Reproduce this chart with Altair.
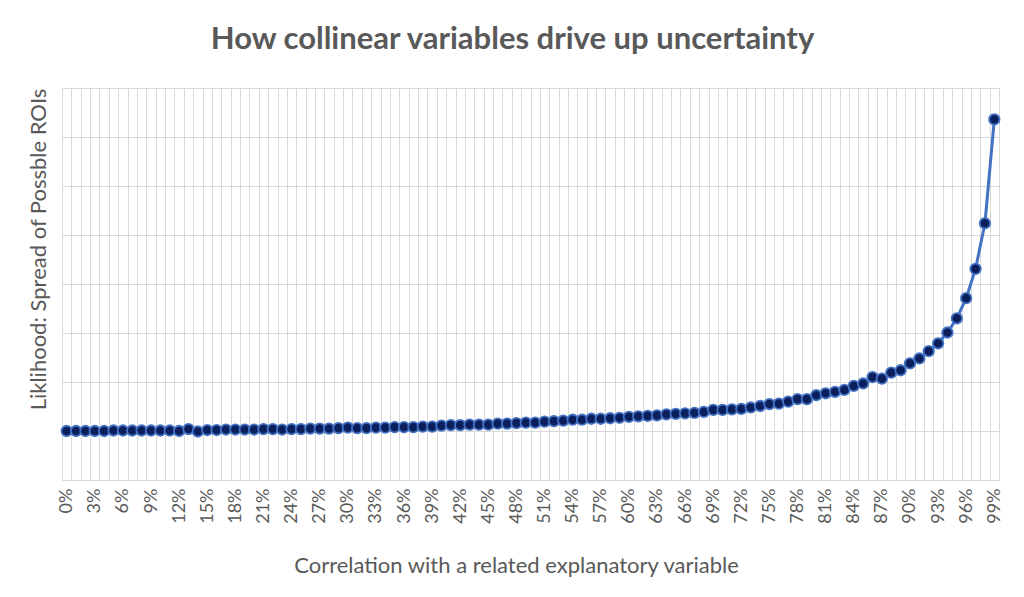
import altair as alt
import pandas as pd

# Correlation (percent) categories 0..99
corr = list(range(100))

# Spread of possible ROIs (y axis 0..8, unlabeled)
spread = [
    1.00, 1.00, 1.00, 1.00, 1.00, 1.01, 1.01, 1.01, 1.01, 1.01,
    1.01, 1.01, 1.00, 1.04, 0.99, 1.02, 1.02, 1.03, 1.03, 1.03,
    1.03, 1.04, 1.04, 1.03, 1.04, 1.04, 1.05, 1.05, 1.05, 1.06,
    1.07, 1.06, 1.06, 1.07, 1.07, 1.08, 1.08, 1.08, 1.09, 1.09,
    1.11, 1.12, 1.12, 1.13, 1.13, 1.13, 1.15, 1.15, 1.16, 1.17,
    1.17, 1.19, 1.20, 1.21, 1.23, 1.23, 1.25, 1.25, 1.26, 1.27,
    1.29, 1.30, 1.31, 1.32, 1.34, 1.35, 1.36, 1.37, 1.39, 1.43,
    1.43, 1.44, 1.45, 1.48, 1.51, 1.55, 1.56, 1.60, 1.65, 1.65,
    1.73, 1.77, 1.80, 1.84, 1.92, 1.97, 2.10, 2.07, 2.19, 2.24,
    2.38, 2.48, 2.63, 2.79, 3.01, 3.30, 3.71, 4.31, 5.24, 7.36,
]

y_grid = list(range(9))

df = pd.DataFrame({"corr": corr, "spread": spread})

FONT = "Lato"
GREY = "#595959"
GRID = "#D9D9D9"

base = alt.Chart(df).encode(
    x=alt.X(
        "corr:O",
        scale=alt.Scale(type="band", paddingInner=0, paddingOuter=0),
        axis=alt.Axis(
            title="Correlation with a related explanatory variable",
            tickBand="extent",
            grid=True,
            gridColor=GRID,
            gridWidth=1,
            ticks=False,
            domainColor=GRID,
            domainWidth=1,
            labelAngle=-90,
            labelOverlap=False,
            labelExpr="datum.value % 3 === 0 ? datum.value + '%' : ''",
            labelFont=FONT,
            labelFontSize=18,
            labelColor=GREY,
            labelPadding=8,
            titleFont=FONT,
            titleFontSize=22,
            titleFontWeight="normal",
            titleColor=GREY,
            titleX=454,
            titleY=75,
            titleAlign="center",
            titleBaseline="top",
        ),
    ),
    y=alt.Y(
        "spread:Q",
        scale=alt.Scale(domain=[0, 8], nice=False),
        axis=alt.Axis(
            title="Liklihood: Spread of Possble ROIs",
            values=y_grid,
            labels=False,
            ticks=False,
            domain=False,
            grid=True,
            gridColor=GRID,
            gridWidth=1,
            titleFont=FONT,
            titleFontSize=22,
            titleFontWeight="normal",
            titleColor=GREY,
            titleAngle=270,
            titleX=-24,
            titleY=161,
            titleAlign="center",
            titleBaseline="middle",
        ),
    ),
)

line = base.mark_line(color="#4472C4", strokeWidth=3)
pts = base.mark_point(
    shape="circle", filled=True, fill="#0A1F5C", stroke="#4472C4",
    strokeWidth=1.8, size=110, opacity=1,
)

chart = (
    alt.layer(line, pts)
    .properties(
        width=937,
        height=392,
        title=alt.TitleParams(
            "How collinear variables drive up uncertainty",
            font=FONT, fontSize=31, fontWeight="bold", color=GREY,
            anchor="middle", offset=32, dx=-18,
        ),
        autosize=alt.AutoSizeParams(type="none"),
        padding={"left": 54, "top": 80, "right": 10, "bottom": 100},
    )
    .configure_view(strokeWidth=0)
    .configure(background="white")
)

chart.save("out.html", embed_options={"renderer": "svg", "actions": False})
